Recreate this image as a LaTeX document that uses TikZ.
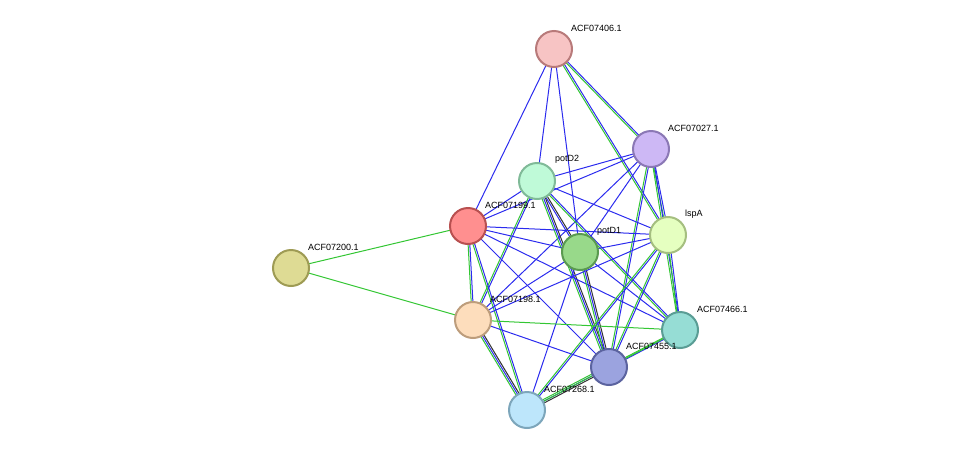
\documentclass[tikz,border=0pt]{standalone}
\usepackage{fontspec}
\setmainfont{Liberation Sans}
\usetikzlibrary{calc,backgrounds}
\definecolor{eb}{HTML}{2B2BEE}
\definecolor{eg}{HTML}{33C633}
\definecolor{ek}{HTML}{333333}
\definecolor{fa}{HTML}{F7C4C4}\definecolor{ba}{HTML}{B87A7A}
\definecolor{fb}{HTML}{CDB8F5}\definecolor{bb}{HTML}{8B78B5}
\definecolor{fc}{HTML}{BFFAD8}\definecolor{bc}{HTML}{80BA98}
\definecolor{fd}{HTML}{FF8F8F}\definecolor{bd}{HTML}{B85050}
\definecolor{fe}{HTML}{E5FFC0}\definecolor{be}{HTML}{A5BF80}
\definecolor{ff}{HTML}{98D98A}\definecolor{bf}{HTML}{5A9A50}
\definecolor{fg}{HTML}{DEDB94}\definecolor{bg}{HTML}{9E9B54}
\definecolor{fh}{HTML}{FDDDBC}\definecolor{bh}{HTML}{BD9D7C}
\definecolor{fi}{HTML}{96DDD5}\definecolor{bi}{HTML}{5A9D95}
\definecolor{fj}{HTML}{9BA3DF}\definecolor{bj}{HTML}{5B639F}
\definecolor{fk}{HTML}{BDE6FB}\definecolor{bk}{HTML}{7DA6BB}
\tikzset{
 prot/.style={circle,minimum size=36pt,inner sep=0pt,line width=2pt,fill=f#1,draw=b#1},
 lab/.style={font=\fontsize{9}{10}\selectfont,anchor=west,inner sep=0pt},
}
\newcommand{\pedge}[3]{%
 \foreach \c [count=\i] in {#3}{\xdef\ncount{\i}}%
 \foreach \c [count=\i] in {#3}{%
  \pgfmathsetmacro{\off}{(\i-(\ncount+1)/2)*1.7}%
  \draw[\c,line width=1pt] ($(#1)!\off pt!90:(#2)$) -- ($(#2)!\off pt!-90:(#1)$);
 }}
\begin{document}
\begin{tikzpicture}[x=1pt,y=-1pt]
\useasboundingbox (0,0) rectangle (975,456);
\node[prot=a] (a) at (554,49) {};
\node[prot=b] (b) at (651,149) {};
\node[prot=c] (c) at (537,181) {};
\node[prot=d] (d) at (468,226) {};
\node[prot=e] (e) at (668,235) {};
\node[prot=f] (f) at (580,252) {};
\node[prot=g] (g) at (291,268) {};
\node[prot=h] (h) at (473,320) {};
\node[prot=i] (i) at (680,330) {};
\node[prot=j] (j) at (609,367) {};
\node[prot=k] (k) at (527,410) {};
\begin{pgfonlayer}{background}
\pedge{g}{d}{eg}
\pedge{g}{h}{eg}
\pedge{a}{d}{eb}
\pedge{a}{c}{eb}
\pedge{a}{f}{eb}
\pedge{a}{b}{eg,eb}
\pedge{a}{e}{eg,eb}
\pedge{b}{c}{eb}
\pedge{b}{d}{eb}
\pedge{b}{h}{eb}
\pedge{b}{e}{eg,eb}
\pedge{b}{i}{eg,eb}
\pedge{b}{j}{eg,eb}
\pedge{b}{f}{eb}
\pedge{c}{d}{eb}
\pedge{c}{f}{eb,ek}
\pedge{c}{e}{eb}
\pedge{c}{h}{eg,eb}
\pedge{c}{j}{eg,eb,ek}
\pedge{c}{i}{eg,eb}
\pedge{d}{f}{eb}
\pedge{d}{e}{eb}
\pedge{d}{h}{eg,eb}
\pedge{d}{k}{eg,eb}
\pedge{d}{j}{eb}
\pedge{d}{i}{eb}
\pedge{f}{e}{eb}
\pedge{f}{h}{eb}
\pedge{f}{j}{eg,eb,ek}
\pedge{f}{k}{eb}
\pedge{f}{i}{eb}
\pedge{e}{h}{eb}
\pedge{e}{j}{eg,eb}
\pedge{e}{i}{eg,eb}
\pedge{e}{k}{eg,eb}
\pedge{h}{i}{eg}
\pedge{h}{j}{eb}
\pedge{h}{k}{eg,eb,ek}
\pedge{i}{j}{eg,eb}
\pedge{j}{k}{eg,eb,ek}
\pedge{i}{k}{eg}
\end{pgfonlayer}
\node[lab] at ($(a)+(17,-21)$) {ACF07406.1};
\node[lab] at ($(b)+(17,-21)$) {ACF07027.1};
\node[lab] at ($(c)+(18,-22)$) {potD2};
\node[lab] at ($(d)+(17,-21)$) {ACF07199.1};
\node[lab] at ($(e)+(17,-21)$) {lspA};
\node[lab] at ($(f)+(17,-21)$) {potD1};
\node[lab] at ($(g)+(17,-21)$) {ACF07200.1};
\node[lab] at ($(h)+(17,-21)$) {ACF07198.1};
\node[lab] at ($(i)+(17,-21)$) {ACF07466.1};
\node[lab] at ($(j)+(17,-21)$) {ACF07455.1};
\node[lab] at ($(k)+(17,-21)$) {ACF07268.1};
\end{tikzpicture}
\end{document}
